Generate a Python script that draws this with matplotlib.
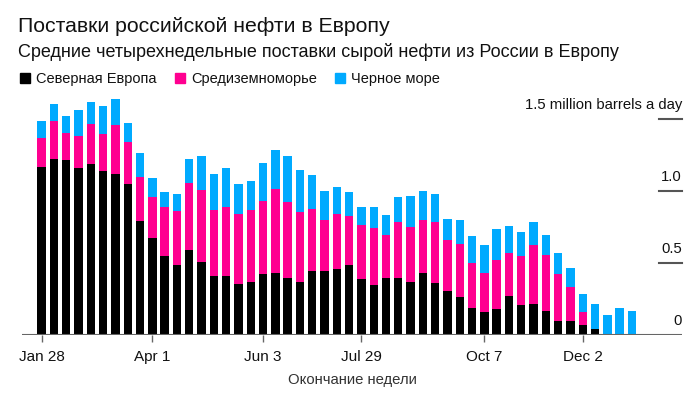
import numpy as np
import pandas as pd
import matplotlib
matplotlib.use('Agg')
import matplotlib.pyplot as plt
from matplotlib.patches import Rectangle
import matplotlib.transforms as mtransforms

plt.rcParams['font.family'] = ['Liberation Sans', 'DejaVu Sans']

# weekly data, million barrels a day
weeks = pd.date_range('2022-01-28', periods=49, freq='7D')

north = [1.169, 1.222, 1.215, 1.162, 1.185, 1.139, 1.118, 1.049, 0.794, 0.674,
         0.549, 0.486, 0.590, 0.509, 0.412, 0.412, 0.352, 0.368, 0.421, 0.428,
         0.396, 0.368, 0.442, 0.442, 0.458, 0.486, 0.389, 0.345, 0.396, 0.396,
         0.368, 0.428, 0.361, 0.306, 0.262, 0.188, 0.157, 0.178, 0.269, 0.208,
         0.215, 0.164, 0.097, 0.097, 0.067, 0.044, 0.0, 0.0, 0.0]
med = [0.197, 0.264, 0.188, 0.218, 0.278, 0.259, 0.343, 0.294, 0.301, 0.287,
       0.342, 0.375, 0.468, 0.496, 0.458, 0.479, 0.488, 0.502, 0.510, 0.584,
       0.525, 0.486, 0.435, 0.359, 0.382, 0.338, 0.375, 0.396, 0.301, 0.391,
       0.382, 0.373, 0.426, 0.354, 0.368, 0.314, 0.276, 0.345, 0.300, 0.341,
       0.408, 0.392, 0.324, 0.239, 0.090, 0.0, 0.0, 0.0, 0.0]
black_sea = [0.120, 0.118, 0.120, 0.180, 0.157, 0.192, 0.180, 0.127, 0.167, 0.127,
             0.100, 0.120, 0.164, 0.240, 0.248, 0.271, 0.211, 0.197, 0.263, 0.270,
             0.324, 0.294, 0.232, 0.197, 0.188, 0.167, 0.123, 0.146, 0.136, 0.174,
             0.218, 0.197, 0.190, 0.143, 0.166, 0.188, 0.190, 0.213, 0.188, 0.164,
             0.164, 0.141, 0.148, 0.129, 0.130, 0.174, 0.141, 0.188, 0.167]

labels = ['Северная Европа', 'Средиземноморье', 'Черное море']
colors = ['#000000', '#ff0090', '#00aaff']
tick_labels = ['Jan 28', 'Apr 1', 'Jun 3', 'Jul 29', 'Oct 7', 'Dec 2']
y_ticks = [0, 0.5, 1.0, 1.5]
y_tick_labels = ['0', '0.5', '1.0', '1.5 million barrels a day']

W, H = 700, 396
fig = plt.figure(figsize=(7, 3.96), dpi=100)
ax = fig.add_axes([22 / W, 1 - 335 / H, 660 / W, 240 / H])

x = np.arange(len(weeks))
bottom = np.zeros(len(weeks))
for vals, c in zip([north, med, black_sea], colors):
    vals = np.array(vals)
    ax.bar(x, vals, width=0.68, bottom=bottom, color=c, linewidth=0)
    bottom += vals

ax.set_xlim(-1.6, 52.07)
ax.set_ylim(0, 240 / 144)

for s in ax.spines.values():
    s.set_visible(False)
ax.set_yticks([])

week_names = [f"{d.strftime('%b')} {d.day}" for d in weeks]
ax.set_xticks([week_names.index(t) for t in tick_labels])
ax.set_xticklabels(tick_labels, fontsize=11, color='#111111')
ax.tick_params(axis='x', length=5, width=1, color='#666666', pad=6)
ax.axhline(0, color='#666666', lw=1.5, zorder=3)

trans = mtransforms.blended_transform_factory(ax.transAxes, ax.transData)
for v, t in zip(y_ticks, y_tick_labels):
    if v > 0:
        ax.plot([0.965, 1.0], [v, v], color='#555555', lw=1.5, transform=trans,
                clip_on=False)
    ax.annotate(t, xy=(1.0, v), xycoords=trans, xytext=(0, 7),
                textcoords='offset points', ha='right', va='baseline',
                fontsize=10.7, color='#111111')

ax.set_xlabel('Окончание недели', fontsize=10.7, color='#333333', labelpad=6)

fig.text(18 / W, 1 - 31.5 / H, 'Поставки российской нефти в Европу',
         fontsize=15.3, color='#111111', va='baseline')
fig.text(18 / W, 1 - 57 / H,
         'Средние четырехнедельные поставки сырой нефти из России в Европу',
         fontsize=13, color='#111111', va='baseline')

leg_x = [20, 175, 335]
for lx, lab, c in zip(leg_x, labels, colors):
    fig.patches.append(Rectangle((lx / W, 1 - 83 / H), 10 / W, 10 / H,
                                 transform=fig.transFigure, color=c))
    fig.text((lx + 16) / W, 1 - 83 / H, lab, fontsize=10.5, color='#111111',
             va='baseline')

fig.savefig('out.png', dpi=100)
